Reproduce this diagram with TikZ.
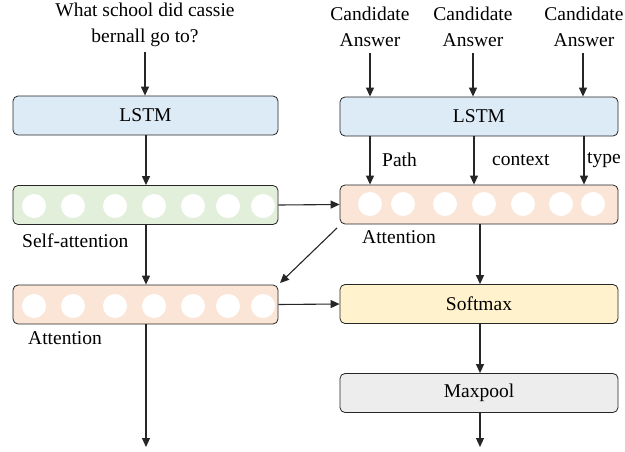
\documentclass[tikz,border=0pt]{standalone}
\usepackage{fontspec}
\setmainfont{Liberation Serif}
\usetikzlibrary{arrows.meta}
\definecolor{cblue}{HTML}{DDEBF7}
\definecolor{cgreen}{HTML}{E2EFDA}
\definecolor{cpeach}{HTML}{FBE5D6}
\definecolor{cyellow}{HTML}{FFF2CC}
\definecolor{cgray}{HTML}{EDEDED}
\definecolor{cline}{HTML}{262626}
\tikzset{
  box/.style={draw=cline, line width=0.8pt, rounded corners=5pt, minimum height=39pt, inner sep=0pt, font=\fontsize{19.5}{19.5}\selectfont},
  dot/.style={circle, fill=white, minimum size=24pt, inner sep=0pt},
  arr/.style={-{Triangle[length=9pt,width=8pt]}, line width=1.1pt, cline},
  txt/.style={font=\fontsize{19.5}{26}\selectfont, align=center, inner sep=0pt},
}
\begin{document}
\begin{tikzpicture}[x=1pt,y=-1pt]
\useasboundingbox (0,0) rectangle (625,451);
% left column
\node[txt] (q) at (145,25) {What school did cassie\\bernall go to?};
\node[box, fill=cblue, minimum width=265pt] (lstmL) at (145.5,115.5) {LSTM};
\node[box, fill=cgreen, minimum width=265pt] (sa) at (145.5,205) {};
\node[box, fill=cpeach, minimum width=265pt] (attL) at (145.5,304.5) {};
\foreach \x [count=\i] in {34,73,115,154,193,228,263}{
  \node[dot] (s\i) at (\x,206) {};
  \node[dot] (a\i) at (\x,306) {};
}
\node[txt, anchor=west] (salab) at (22,241) {Self-attention};
\node[txt, anchor=west] (alab) at (28,338) {Attention};
% right column
\node[txt] (c1) at (370,27) {Candidate\\Answer};
\node[txt] (c2) at (473,27) {Candidate\\Answer};
\node[txt] (c3) at (584,27) {Candidate\\Answer};
\node[box, fill=cblue, minimum width=278pt] (lstmR) at (479,116.5) {LSTM};
\node[box, fill=cpeach, minimum width=278pt] (attR) at (479,204.5) {};
\foreach \x [count=\i] in {370,403,445,484,523,561,593}{
  \node[dot] (r\i) at (\x,204) {};
}
\node[txt, anchor=west] (arlab) at (362,237) {Attention};
\node[box, fill=cyellow, minimum width=278pt] (soft) at (479,304) {Softmax};
\node[box, fill=cgray, minimum width=278pt] (maxp) at (479,393) {Maxpool};
\coordinate (endL) at (146,447);
\coordinate (endR) at (480,447);
% arrows left
\draw[arr] (145,52) -- (lstmL.north -| 145,0);
\draw[arr] (lstmL.south -| 146,0) -- (sa.north -| 146,0);
\draw[arr] (sa.south -| 146,0) -- (attL.north -| 146,0);
\draw[arr] (attL.south -| 146,0) -- (endL);
% arrows right
\foreach \x in {370,473,583}{
  \draw[arr] (\x,53) -- (lstmR.north -| \x,0);
}
\draw[arr] (lstmR.south -| 370,0) -- (attR.north -| 370,0);
\draw[arr] (lstmR.south -| 474,0) -- (attR.north -| 474,0);
\draw[arr] (lstmR.south -| 584,0) -- (attR.north -| 584,0);
\node[txt, anchor=west] (lpath) at (382,160) {Path};
\node[txt, anchor=west] (lctx) at (492,160) {context};
\node[txt, anchor=west] (ltype) at (587,160) {type};
\draw[arr] (attR.south -| 480,0) -- (soft.north -| 480,0);
\draw[arr] (soft.south -| 480,0) -- (maxp.north -| 480,0);
\draw[arr] (maxp.south -| 480,0) -- (endR);
% cross arrows
\draw[arr] (sa.east) -- (attR.west);
\draw[arr] (attL.east) -- (soft.west);
\draw[arr] (337,228) -- (280,283);
\end{tikzpicture}
\end{document}
